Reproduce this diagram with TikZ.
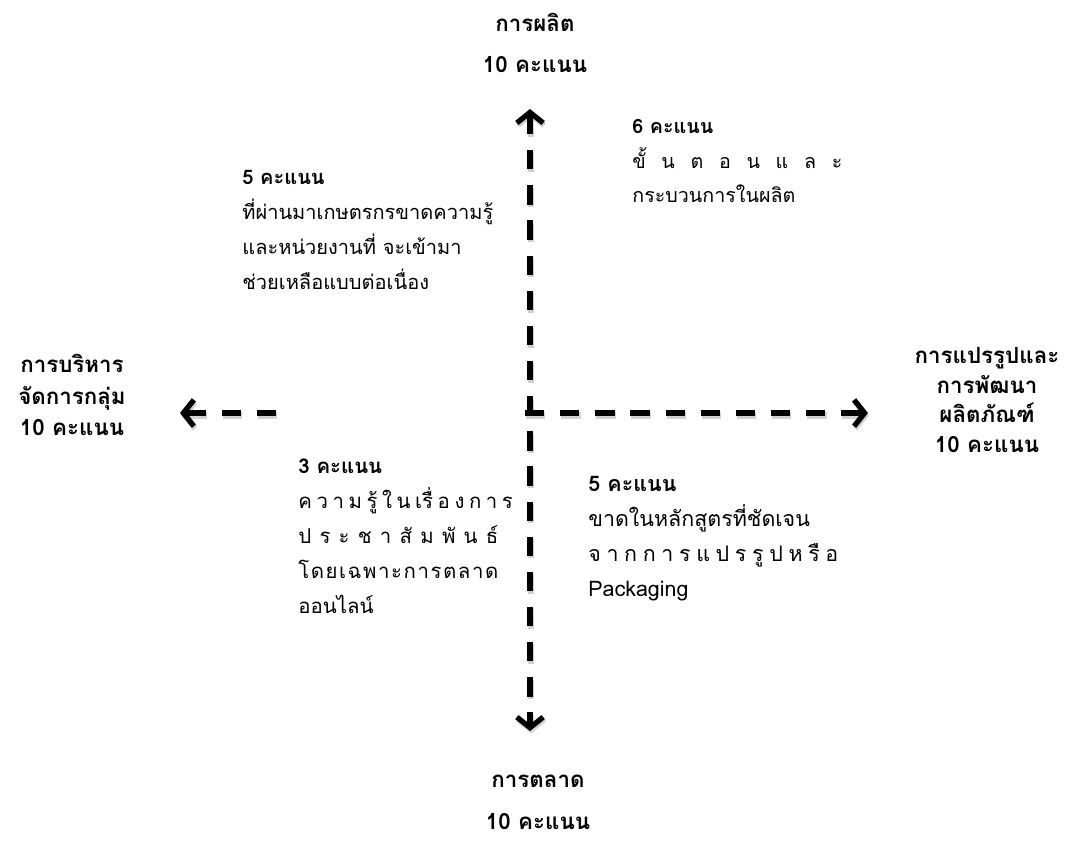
\documentclass[tikz,border=0pt]{standalone}
\usepackage{fontspec}
\setmainfont[Script=Thai]{Loma}
\usepackage{tikz}
\usetikzlibrary{arrows.meta,positioning,calc}

% spread one justified line of clusters to a given width
\newcommand{\spreadline}[2]{\makebox[#1][s]{#2}}
\newcommand{\gp}{\hspace{0pt plus 1fil}}

\begin{document}
\begin{tikzpicture}[x=0.02cm,y=-0.02cm,
  axis/.style={line width=3pt,dash pattern=on 11pt off 9pt,
    preaction={draw=black!18,line width=3.8pt,dash pattern=on 11pt off 9pt,
      transform canvas={shift={(0.6pt,-1.4pt)}}}},
  tip/.style={-{Straight Barb[length=6pt,width=15pt,line width=3pt]}},
  pole/.style={font=\bfseries\fontsize{12.7}{#1}\selectfont,align=center,inner sep=0pt},
  note/.style={font=\fontsize{#1}{19.9pt}\selectfont,align=left,inner sep=0pt,anchor=west}]
\useasboundingbox (0,0) rectangle (1069,840);

% axis ends
\coordinate (o) at (530,413);
\coordinate (top) at (530,109);
\coordinate (bot) at (530,731);
\coordinate (rgt) at (868,413);
\coordinate (lft) at (180,413);
\coordinate (lstub) at (276,413);
\coordinate (rstub) at (525,413);

\draw[axis,{Straight Barb[length=6pt,width=15pt,line width=3pt]}-{Straight Barb[length=6pt,width=15pt,line width=3pt]}] (top) -- (bot);
\draw[axis,tip] (rstub) -- (rgt);
\draw[axis,tip] (lstub) -- (lft);

% poles
\node[pole=23pt] (prod) at (535,43) {การผลิต\\10 คะแนน};
\node[pole=24pt] (mkt) at (538,802) {การตลาด\\10 คะแนน};
\node[pole=18pt] (mgmt) at (72,395) {การบริหาร\\จัดการกลุ่ม\\10 คะแนน};
\node[pole=17pt] (proc) at (987,400) {การแปรรูปและ\\การพัฒนา\\ผลิตภัณฑ์\\10 คะแนน};

% quadrant notes
\node[note=11.4] (tl) at (242,230) {\textbf{5 คะแนน}\\ที่ผ่านมาเกษตรกรขาดความรู้\\และหน่วยงานที่ จะเข้ามา\\ช่วยเหลือแบบต่อเนื่อง};
\node[note=11.2] (tr) at (632,161) {\textbf{6 คะแนน}\\\spreadline{4.2cm}{ขั้ น ต อ น แ ล ะ}\\กระบวนการในผลิต};
\node[note=11.6] (bl) at (298,536) {\textbf{3 คะแนน}\\\spreadline{4.0cm}{ค ว า ม รู้ ใ น เรื่ อ ง ก า ร}\\\spreadline{4.0cm}{ป ร ะ ช า สั ม พั น ธ์}\\\spreadline{4.0cm}{โ\gp ด\gp ย\gp เ\gp ฉ\gp พ\gp า\gp ะ\gp ก\gp า\gp ร\gp ต\gp ล\gp า\gp ด}\\ออนไลน์};
\node[note=12.2] (br) at (588,539) {\textbf{5 คะแนน}\\ขาดในหลักสูตรที่ชัดเจน\\\spreadline{5.0cm}{จ า ก ก า ร แ ป ร รู ป ห รื อ}\\Packaging};
\end{tikzpicture}
\end{document}
